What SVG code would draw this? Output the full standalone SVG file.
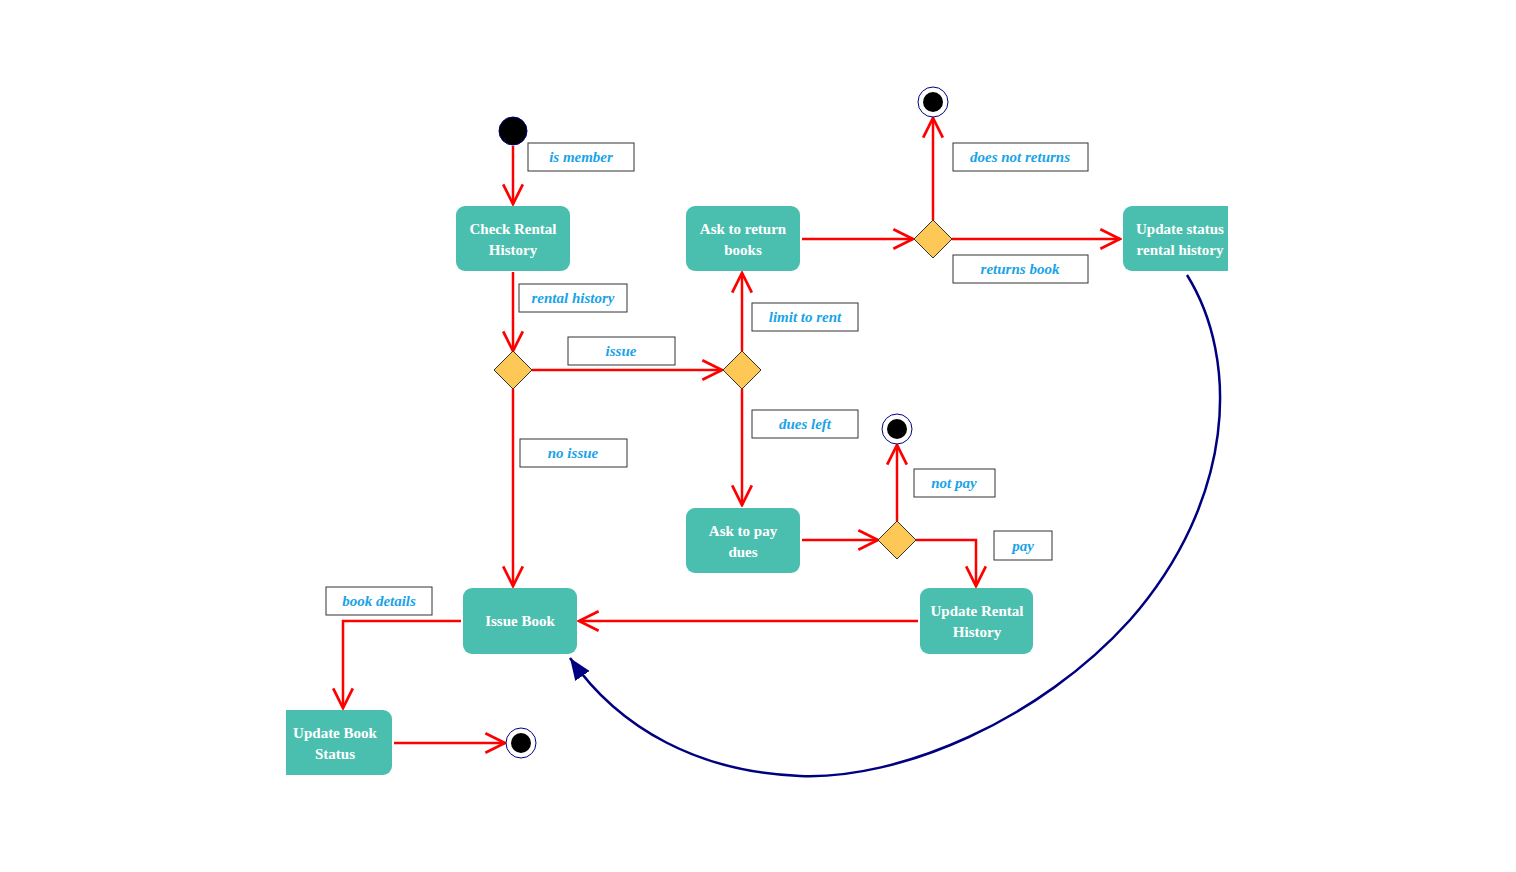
<svg xmlns="http://www.w3.org/2000/svg" width="1516" height="872" viewBox="0 0 1516 872">
<style>
.n{fill:#4BBFAF}
.t{font-family:"Liberation Serif",serif;font-weight:bold;font-size:15px;fill:#fff;text-anchor:middle}
.lb{fill:#fff;stroke:#333;stroke-width:1}
.lt{font-family:"Liberation Serif",serif;font-weight:bold;font-style:italic;font-size:15px;fill:#1AA3E8;text-anchor:middle}
.e{stroke:#FF0000;stroke-width:2.5;fill:none;marker-end:url(#a)}
.d{fill:#FDC856;stroke:#333;stroke-width:1}
</style>
<defs>
<marker id="a" markerUnits="userSpaceOnUse" markerWidth="24" markerHeight="24" refX="20" refY="10" viewBox="0 0 22 20" orient="auto"><path d="M2,1 L20,10 L2,19" fill="none" stroke="#FF0000" stroke-width="2.5"/></marker>
<marker id="b" markerUnits="userSpaceOnUse" markerWidth="24" markerHeight="24" refX="20" refY="8" viewBox="0 0 22 16" orient="auto"><path d="M0,0 L20,8 L0,16 Z" fill="#000080"/></marker>
<clipPath id="c1"><rect x="0" y="0" width="1228" height="872"/></clipPath>
<clipPath id="c2"><rect x="286" y="0" width="1230" height="872"/></clipPath>
</defs>
<rect width="1516" height="872" fill="#fff"/>
<g id="connectors">
<path class="e" d="M513,146 V204"/>
<path class="e" d="M513,272 V351"/>
<path class="e" d="M532,370 H722"/>
<path class="e" d="M742,351 V273"/>
<path class="e" d="M742,389 V505"/>
<path class="e" d="M513,389 V586"/>
<path class="e" d="M802,239 H913"/>
<path class="e" d="M933,220 V118"/>
<path class="e" d="M952,239 H1120"/>
<path class="e" d="M802,540 H878"/>
<path class="e" d="M897,521 V445"/>
<path class="e" d="M916,540 H976 V586"/>
<path class="e" d="M918,621 H579"/>
<path class="e" d="M461,621 H343 V708"/>
<path class="e" d="M394,743 H505"/>
<path d="M1187,275 C1240,360 1235,500 1130,620 C1040,720 900,780 800,776 C700,772 620,730 570,658" fill="none" stroke="#000080" stroke-width="2.5" marker-end="url(#b)"/>
</g>
<g id="labels">
<rect class="lb" x="528" y="143" width="106" height="28"/><text class="lt" x="581" y="162">is member</text>
<rect class="lb" x="519" y="284" width="108" height="28"/><text class="lt" x="573" y="303">rental history</text>
<rect class="lb" x="568" y="337" width="107" height="28"/><text class="lt" x="621" y="356">issue</text>
<rect class="lb" x="752" y="303" width="106" height="28"/><text class="lt" x="805" y="322">limit to rent</text>
<rect class="lb" x="752" y="410" width="106" height="28"/><text class="lt" x="805" y="429">dues left</text>
<rect class="lb" x="520" y="439" width="107" height="28"/><text class="lt" x="573" y="458">no issue</text>
<rect class="lb" x="953" y="143" width="135" height="28"/><text class="lt" x="1020" y="162">does not returns</text>
<rect class="lb" x="953" y="255" width="135" height="28"/><text class="lt" x="1020" y="274">returns book</text>
<rect class="lb" x="914" y="469" width="81" height="28"/><text class="lt" x="954" y="488">not pay</text>
<rect class="lb" x="994" y="531" width="58" height="29"/><text class="lt" x="1023" y="551">pay</text>
<rect class="lb" x="326" y="587" width="106" height="28"/><text class="lt" x="379" y="606">book details</text>
</g>
<g id="start"><circle cx="513" cy="131" r="14" fill="#000" stroke="#000080"/></g>
<g id="end1"><circle cx="933" cy="102" r="15" fill="#fff" stroke="#000080"/><circle cx="933" cy="102" r="10" fill="#000"/></g>
<g id="end2"><circle cx="897" cy="429" r="15" fill="#fff" stroke="#000080"/><circle cx="897" cy="429" r="10" fill="#000"/></g>
<g id="end3"><circle cx="521" cy="743" r="15" fill="#fff" stroke="#000080"/><circle cx="521" cy="743" r="10" fill="#000"/></g>
<g id="d1"><path class="d" d="M513,351 L532,370 L513,389 L494,370 Z"/></g>
<g id="d2"><path class="d" d="M742,351 L761,370 L742,389 L723,370 Z"/></g>
<g id="d3"><path class="d" d="M933,220 L952,239 L933,258 L914,239 Z"/></g>
<g id="d4"><path class="d" d="M897,521 L916,540 L897,559 L878,540 Z"/></g>
<g id="checkRental"><rect class="n" x="456" y="206" width="114" height="65" rx="9"/><text class="t" x="513" y="234">Check Rental</text><text class="t" x="513" y="255">History</text></g>
<g id="askReturn"><rect class="n" x="686" y="206" width="114" height="65" rx="9"/><text class="t" x="743" y="234">Ask to return</text><text class="t" x="743" y="255">books</text></g>
<g id="updateStatus" clip-path="url(#c1)"><rect class="n" x="1123" y="206" width="130" height="65" rx="9"/><text class="t" x="1180" y="234">Update status</text><text class="t" x="1180" y="255">rental history</text></g>
<g id="askPay"><rect class="n" x="686" y="508" width="114" height="65" rx="9"/><text class="t" x="743" y="536">Ask to pay</text><text class="t" x="743" y="557">dues</text></g>
<g id="issueBook"><rect class="n" x="463" y="588" width="114" height="66" rx="9"/><text class="t" x="520" y="626">Issue Book</text></g>
<g id="updateRental"><rect class="n" x="920" y="588" width="113" height="66" rx="9"/><text class="t" x="977" y="616">Update Rental</text><text class="t" x="977" y="637">History</text></g>
<g id="updateBook" clip-path="url(#c2)"><rect class="n" x="270" y="710" width="122" height="65" rx="9"/><text class="t" x="335" y="738">Update Book</text><text class="t" x="335" y="759">Status</text></g>
</svg>
